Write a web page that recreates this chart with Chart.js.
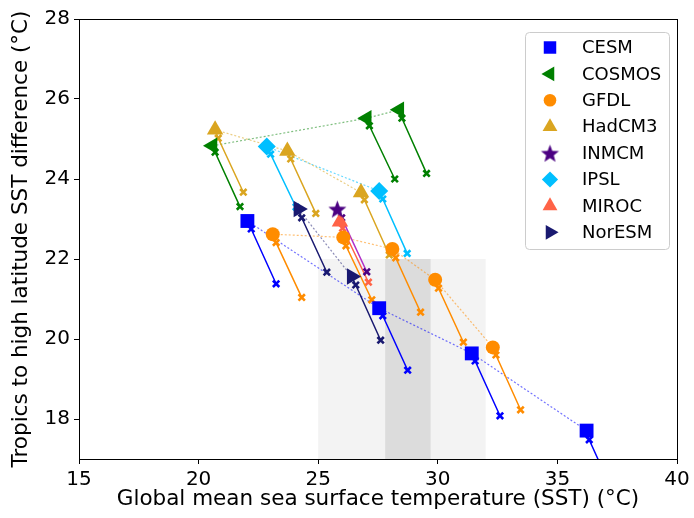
<!DOCTYPE html>
<html>
<head>
<meta charset="utf-8">
<script src="https://cdn.jsdelivr.net/npm/chart.js@4.4.0/dist/chart.umd.min.js"></script>
<style>
  html, body { margin: 0; padding: 0; background: #fff; }
  #wrap { width: 694px; height: 518px; }
</style>
</head>
<body>
<div id="wrap"><canvas id="myChart" width="694" height="518"></canvas></div>
<script>
// ------------------------------------------------------------------ data section
// model names, legend order
var modelNames = ['CESM', 'COSMOS', 'GFDL', 'HadCM3', 'INMCM', 'IPSL', 'MIROC', 'NorESM'];

// x ticks / y ticks
var xTicks = [15, 20, 25, 30, 35, 40];
var yTicks = [18, 20, 22, 24, 26, 28];

// shaded SST ranges [xmin, xmax, ymin, ymax]
var lightBand = [25, 32, 17, 22];
var darkBand = [27.8, 29.7, 17, 22];

// big markers = [SST, difference]
var cesmMean = [[22.04, 22.95], [27.55, 20.77], [31.42, 19.64], [36.22, 17.71]];
var cesmStart = [[22.20, 22.75], [27.70, 20.58], [31.56, 19.45], [36.33, 17.48]];
var cesmEnd = [[23.24, 21.38], [28.74, 19.22], [32.60, 18.08], [37.30, 16.20]];

var cosmosMean = [[20.58, 24.83], [27.03, 25.52], [28.39, 25.73]];
var cosmosStart = [[20.69, 24.67], [27.14, 25.33], [28.50, 25.52]];
var cosmosEnd = [[21.73, 23.31], [28.20, 24.00], [29.53, 24.14]];

var gfdlMean = [[23.10, 22.62], [26.05, 22.54], [28.10, 22.25], [29.89, 21.48], [32.30, 19.79]];
var gfdlStart = [[23.24, 22.41], [26.16, 22.33], [28.24, 22.03], [30.03, 21.27], [32.43, 19.60]];
var gfdlEnd = [[24.31, 21.04], [27.24, 20.98], [29.28, 20.67], [31.07, 19.92], [33.46, 18.23]];

var hadcm3Mean = [[20.69, 25.23], [23.71, 24.70], [26.79, 23.66]];
var hadcm3Start = [[20.82, 25.02], [23.85, 24.50], [26.93, 23.48]];
var hadcm3End = [[21.87, 23.67], [24.90, 23.14], [27.97, 22.10]];

var inmcmMean = [[25.80, 23.25]];
var inmcmStart = [[25.98, 23.03]];
var inmcmEnd = [[27.03, 21.68]];

var ipslMean = [[22.85, 24.81], [27.55, 23.70]];
var ipslStart = [[23.01, 24.62], [27.70, 23.50]];
var ipslEnd = [[24.07, 23.30], [28.72, 22.14]];

var mirocMean = [[25.91, 22.93]];
var mirocStart = [[26.02, 22.77]];
var mirocEnd = [[27.10, 21.42]];

var noresmMean = [[24.17, 23.25], [26.40, 21.56]];
var noresmStart = [[24.31, 23.03], [26.57, 21.35]];
var noresmEnd = [[25.36, 21.67], [27.61, 19.97]];

// ------------------------------------------------------------------ style section
function makeStar(r, color) {
    var c = document.createElement('canvas');
    var s = Math.ceil(r * 2) + 2;
    c.width = s; c.height = s;
    var g = c.getContext('2d');
    g.beginPath();
    for (var i = 0; i < 10; i++) {
        var a = -Math.PI / 2 + i * Math.PI / 5;
        var rr = (i % 2) ? r * 0.42 : r;
        g.lineTo(s / 2 + rr * Math.cos(a), s / 2 + rr * Math.sin(a) + r * 0.1);
    }
    g.closePath();
    g.fillStyle = color;
    g.fill();
    return c;
}

var starImg = makeStar(9.5, '#4b0082');

var models = [
    { mean: cesmMean, start: cesmStart, end: cesmEnd, color: '#0000ff', line: '#0000ff', dot: 'rgba(0,0,255,0.55)', style: 'rect', radius: 9.8, rot: 0 },
    { mean: cosmosMean, start: cosmosStart, end: cosmosEnd, color: '#008000', line: '#008000', dot: 'rgba(0,128,0,0.5)', style: 'triangle', radius: 9.5, rot: 270 },
    { mean: gfdlMean, start: gfdlStart, end: gfdlEnd, color: '#ff8c00', line: '#ff8c00', dot: 'rgba(255,140,0,0.55)', style: 'circle', radius: 7, rot: 0 },
    { mean: hadcm3Mean, start: hadcm3Start, end: hadcm3End, color: '#daa520', line: '#daa520', dot: 'rgba(218,165,32,0.55)', style: 'triangle', radius: 9.5, rot: 0 },
    { mean: inmcmMean, start: inmcmStart, end: inmcmEnd, color: '#4b0082', line: '#b030c8', dot: 'rgba(75,0,130,0.5)', style: starImg, radius: 9, rot: 0 },
    { mean: ipslMean, start: ipslStart, end: ipslEnd, color: '#00bfff', line: '#00bfff', dot: 'rgba(0,191,255,0.6)', style: 'rectRot', radius: 9, rot: 0 },
    { mean: mirocMean, start: mirocStart, end: mirocEnd, color: '#ff6347', line: '#ff6347', dot: 'rgba(255,99,71,0.5)', style: 'triangle', radius: 9.5, rot: 0 },
    { mean: noresmMean, start: noresmStart, end: noresmEnd, color: '#191970', line: '#191970', dot: 'rgba(25,25,112,0.5)', style: 'triangle', radius: 9.5, rot: 90 }
];

function pt(p) { return { x: p[0], y: p[1] }; }

// build datasets
var datasets = [];
for (var m = 0; m < models.length; m++) {
    var md = models[m];
    // dotted line through the model points
    datasets.push({
        label: modelNames[m] + ' path',
        data: md.mean.map(pt),
        showLine: true,
        borderColor: md.dot,
        borderWidth: 1.2,
        borderDash: [2, 2],
        pointRadius: 0,
        order: 3
    });
    // solid line to each end point
    for (var i = 0; i < md.mean.length; i++) {
        datasets.push({
            label: modelNames[m] + ' change ' + i,
            data: [pt(md.mean[i]), pt(md.start[i]), pt(md.end[i])],
            showLine: true,
            borderColor: md.line,
            borderWidth: 1.5,
            pointStyle: 'crossRot',
            pointRadius: [0, 4.5, 4.5],
            pointBorderColor: md.color,
            pointBackgroundColor: md.color,
            pointBorderWidth: 2.6,
            order: 2
        });
    }
    // big markers
    datasets.push({
        label: modelNames[m],
        data: md.mean.map(pt),
        showLine: false,
        pointStyle: md.style,
        pointRotation: md.rot,
        pointRadius: md.radius,
        pointBackgroundColor: md.color,
        pointBorderColor: md.color,
        pointBorderWidth: 0,
        order: 1
    });
}

// shaded bands behind the data
const bandPlugin = {
    id: 'bands',
    beforeDatasetsDraw: function (chart) {
        var c = chart.ctx, xs = chart.scales.x, ys = chart.scales.y;
        c.save();
        c.fillStyle = '#f3f3f3';
        c.fillRect(xs.getPixelForValue(lightBand[0]), ys.getPixelForValue(lightBand[3]),
            xs.getPixelForValue(lightBand[1]) - xs.getPixelForValue(lightBand[0]),
            ys.getPixelForValue(lightBand[2]) - ys.getPixelForValue(lightBand[3]));
        c.fillStyle = '#dcdcdc';
        c.fillRect(xs.getPixelForValue(darkBand[0]), ys.getPixelForValue(darkBand[3]),
            xs.getPixelForValue(darkBand[1]) - xs.getPixelForValue(darkBand[0]),
            ys.getPixelForValue(darkBand[2]) - ys.getPixelForValue(darkBand[3]));
        c.restore();
    }
};

// frame + legend box
const framePlugin = {
    id: 'frame',
    afterDraw: function (chart) {
        var c = chart.ctx, a = chart.chartArea;
        c.save();
        c.strokeStyle = '#000';
        c.lineWidth = 1;
        c.strokeRect(Math.round(a.left) + 0.5, Math.round(a.top) + 0.5,
            Math.round(a.right - a.left), Math.round(a.bottom - a.top));

        // legend
        var bx = 525, by = 32, bw = 144, bh = 217;
        c.fillStyle = 'rgba(255,255,255,0.8)';
        c.strokeStyle = '#cccccc';
        c.beginPath();
        c.roundRect(bx + 0.5, by + 0.5, bw, bh, 4);
        c.fill();
        c.stroke();
        c.font = '18px "DejaVu Sans"';
        c.textBaseline = 'middle';
        for (var k = 0; k < models.length; k++) {
            var yy = 47.5 + k * 26.4;
            var md = models[k];
            c.fillStyle = md.color;
            c.strokeStyle = md.color;
            Chart.helpers.drawPoint(c, { pointStyle: md.style, radius: md.radius * 0.9, rotation: md.rot, borderWidth: 0 }, 550, yy);
            c.fillStyle = '#000';
            c.fillText(modelNames[k], 582, yy + 1);
        }
        c.restore();
    }
};

const ctx = document.getElementById('myChart').getContext('2d');
const myChart = new Chart(ctx, {
    type: 'scatter',
    data: { datasets: datasets },
    options: {
        responsive: false,
        animation: false,
        layout: { padding: { top: 19, right: 17, left: 0, bottom: 0 } },
        plugins: {
            legend: { display: false },
            tooltip: { enabled: false }
        },
        scales: {
            x: {
                type: 'linear',
                min: 15,
                max: 40,
                afterBuildTicks: function (s) { s.ticks = xTicks.map(function (v) { return { value: v }; }); },
                afterFit: function (s) { s.height = 59; },
                grid: { drawOnChartArea: false, tickLength: 5, tickColor: '#000' },
                border: { display: false },
                ticks: { color: '#000', font: { family: 'DejaVu Sans', size: 20 }, padding: 4, maxRotation: 0 },
                title: {
                    display: true,
                    text: 'Global mean sea surface temperature (SST) (°C)',
                    color: '#000',
                    font: { family: 'DejaVu Sans', size: 21.5 },
                    padding: { top: 0, bottom: 6 }
                }
            },
            y: {
                type: 'linear',
                min: 17,
                max: 28,
                afterBuildTicks: function (s) { s.ticks = yTicks.map(function (v) { return { value: v }; }); },
                afterFit: function (s) { s.width = 79; },
                grid: { drawOnChartArea: false, tickLength: 5, tickColor: '#000' },
                border: { display: false },
                ticks: { color: '#000', font: { family: 'DejaVu Sans', size: 20 }, padding: 4 },
                title: {
                    display: true,
                    text: 'Tropics to high latitude SST difference (°C)',
                    color: '#000',
                    font: { family: 'DejaVu Sans', size: 21.5 },
                    padding: { top: 9, bottom: 0 }
                }
            }
        }
    },
    plugins: [bandPlugin, framePlugin]
});
</script>
</body>
</html>
